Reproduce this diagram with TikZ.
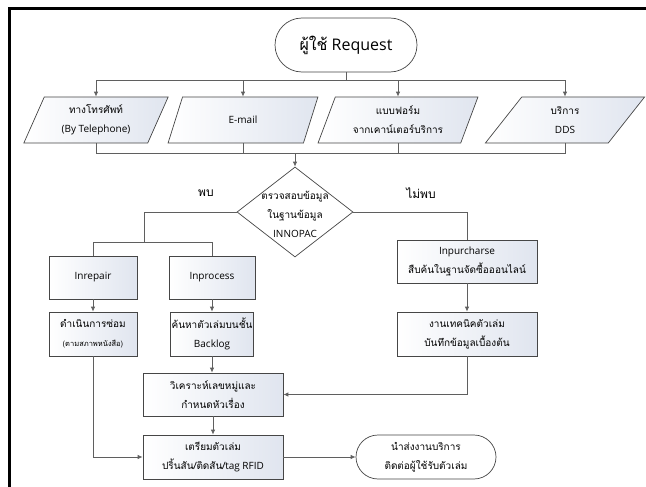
\documentclass[tikz,border=0pt]{standalone}
\usepackage{fontspec}
\setmainfont{Open Sans}
\newfontfamily\thai[Script=Thai]{Loma}
\usetikzlibrary{shapes.geometric,shapes.misc,arrows.meta}
\definecolor{boxend}{RGB}{224,229,239}
\definecolor{conncol}{RGB}{95,95,95}
\definecolor{edgecol}{RGB}{70,70,70}
\begin{document}
\begin{tikzpicture}[x=1pt,y=-1pt,
  conn/.style={draw=conncol, line width=0.8pt},
  arr/.style={conn, -{Latex[length=5pt,width=4.5pt]}},
  txt/.style={font=\fontsize{10}{19}\selectfont, align=center},
  proc/.style={txt, rectangle, draw=edgecol, line width=0.7pt, left color=white, right color=boxend, inner sep=0pt},
  io/.style={txt, trapezium, trapezium left angle=66, trapezium right angle=114, trapezium stretches=true, draw=edgecol, line width=0.7pt, left color=white, right color=boxend, minimum height=46pt, inner sep=0pt},
  term/.style={txt, rounded rectangle, draw=edgecol, line width=0.7pt, fill=white, inner sep=0pt},
  lbl/.style={font=\fontsize{12}{14}\selectfont\thai}
]
\useasboundingbox (0,0) rectangle (646,487);
\fill[white] (0,0) rectangle (646,487);
% frame
\draw[line width=2.5pt] (9.5,487) -- (9.5,8.5) -- (646,8.5);

% top terminal
\node[term, minimum width=142pt, minimum height=54pt, font=\fontsize{16}{18}\selectfont] (req) at (346,45) {{\thai ผู้ใช้} Request};

% inputs
\node[io, minimum width=145pt] (p1) at (96,120) {{\thai ทางโทรศัพท์}\\(By Telephone)};
\node[io, minimum width=150pt] (p2) at (243,120) {E-mail};
\node[io, minimum width=160pt] (p3) at (398,120) {{\thai แบบฟอร์ม}\\{\thai จากเคาน์เตอร์บริการ}};
\node[io, minimum width=160pt] (p4) at (565,120) {{\thai บริการ}\\DDS};

\coordinate (j1) at (346,80);
\draw[conn] (req.south) -- (j1);
\draw[arr] (j1) -| (p1.north);
\draw[arr] (j1) -| (p2.north);
\draw[arr] (j1) -| (p3.north);
\draw[arr] (j1) -| (p4.north);

% decision
\node[diamond, draw=edgecol, line width=0.7pt, fill=white, minimum width=116pt, minimum height=90pt, inner sep=0pt] (dec) at (295,212) {};
\node[txt] (dectxt) at (295,214) {{\thai ตรวจสอบข้อมูล}\\{\thai ในฐานข้อมูล}\\INNOPAC};

\coordinate (j2) at (295,153);
\draw[conn] (p1.south) |- (j2);
\draw[conn] (p2.south) |- (j2);
\draw[conn] (p3.south) |- (j2);
\draw[conn] (p4.south) |- (j2);
\draw[arr] (j2) -- (dec.north);

\node[lbl] (found) at (206,193) {พบ};
\node[lbl] (notfound) at (421,193) {ไม่พบ};

% boxes
\node[proc, minimum width=88pt, minimum height=43pt] (inrep) at (93,277.5) {Inrepair};
\node[proc, minimum width=86pt, minimum height=43pt] (inproc) at (212,277.5) {Inprocess};
\node[proc, minimum width=140pt, minimum height=43pt] (inpur) at (467,261.5) {Inpurcharse\\{\thai สืบค้นในฐานจัดซื้อออนไลน์}};
\node[proc, minimum width=88pt, minimum height=44pt] (repair) at (93,334) {{\thai ดำเนินการซ่อม}\\{\fontsize{7.5}{10}\selectfont\thai (ตามสภาพหนังสือ)}};
\node[proc, minimum width=83pt, minimum height=44pt] (backlog) at (212,334) {{\thai ค้นหาตัวเล่มบนชั้น}\\Backlog};
\node[proc, minimum width=140pt, minimum height=44pt] (tech) at (467,334) {{\thai งานเทคนิคตัวเล่ม}\\{\thai บันทึกข้อมูลเบื้องต้น}};
\node[proc, minimum width=140pt, minimum height=43pt] (analyze) at (213,394.5) {{\thai วิเคราะห์เลขหมู่และ}\\{\thai กำหนดหัวเรื่อง}};
\node[proc, minimum width=140pt, minimum height=44pt] (prep) at (213,457) {{\thai เตรียมตัวเล่ม}\\{\thai ปริ้นสัน/ติดสัน/}tag RFID};
\node[term, minimum width=140pt, minimum height=44pt] (deliver) at (426,457) {{\thai นำส่งงานบริการ}\\{\thai ติดต่อผู้ใช้รับตัวเล่ม}};

% branches
\coordinate (l1) at (144,212);
\coordinate (l2) at (144,242);
\draw[conn] (dec.west) -- (l1) -- (l2);
\draw[conn] (l2) -| (inrep.north);
\draw[conn] (l2) -| (inproc.north);
\draw[conn] (dec.east) -| (inpur.north);

% flow
\draw[arr] (inrep.south) -- (repair.north);
\draw[arr] (inproc.south) -- (backlog.north);
\draw[arr] (inpur.south) -- (tech.north);
\draw[arr] (backlog.south) -- (backlog.south |- analyze.north);
\draw[arr] (analyze.south) -- (prep.north);
\draw[arr] (repair.south) |- (prep.west);
\draw[arr] (tech.south) |- (analyze.east);
\draw[arr] (prep.east) -- (deliver.west);
\end{tikzpicture}
\end{document}
